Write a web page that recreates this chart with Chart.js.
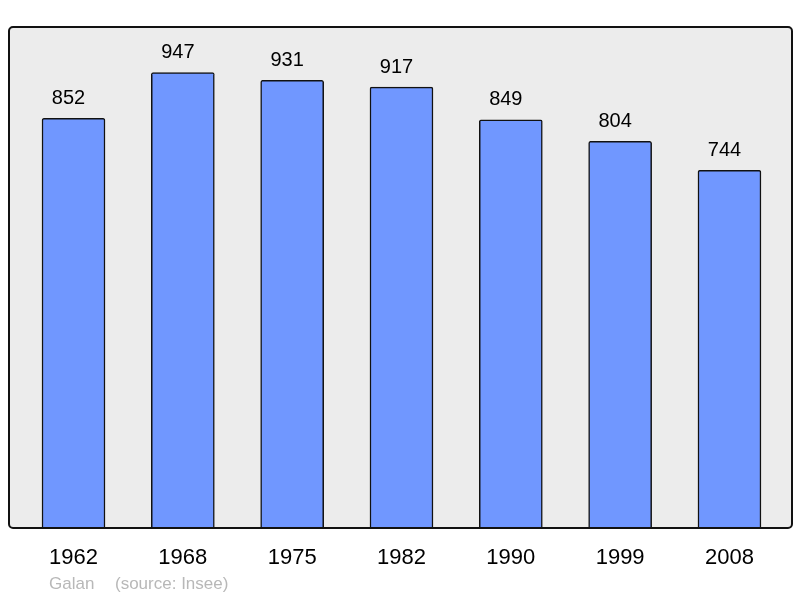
<!DOCTYPE html>
<html>
<head>
<meta charset="utf-8">
<script src="https://cdn.jsdelivr.net/npm/chart.js@4"></script>
<style>
  html, body { margin: 0; padding: 0; background: #ffffff; }
  #wrap { width: 800px; height: 598px; }
</style>
</head>
<body>
<div id="wrap"><canvas id="popChart" width="800" height="598"></canvas></div>
<script>
// Population by census year
const years = ['1962', '1968', '1975', '1982', '1990', '1999', '2008'];
const population = [852, 947, 931, 917, 849, 804, 744];
const footerName = 'Galan';
const footerSource = '(source: Insee)';

// bars sit on a linear x scale so the side margins match the picture
const points = population.map((v, i) => ({ x: i, y: v }));

// grey panel behind the bars, frame on top
const panelPlugin = {
    id: 'panel',
    beforeDatasetsDraw(chart) {
        const a = chart.chartArea;
        const ctx = chart.ctx;
        ctx.save();
        ctx.fillStyle = '#ececec';
        ctx.beginPath();
        ctx.roundRect(a.left, a.top, a.right - a.left, a.bottom - a.top, 4);
        ctx.fill();
        ctx.restore();
    },
    afterDatasetsDraw(chart) {
        const a = chart.chartArea;
        const ctx = chart.ctx;
        ctx.save();
        // value labels above each bar (sit a little left of centre in the original)
        ctx.fillStyle = '#000000';
        ctx.font = '20px "Liberation Sans", Arial, sans-serif';
        ctx.textAlign = 'center';
        ctx.textBaseline = 'middle';
        chart.getDatasetMeta(0).data.forEach((bar, i) => {
            ctx.fillText(String(population[i]), bar.x - 5, bar.y - 20);
        });
        // frame
        ctx.strokeStyle = '#111111';
        ctx.lineWidth = 2;
        ctx.beginPath();
        ctx.roundRect(a.left, a.top, a.right - a.left, a.bottom - a.top, 4);
        ctx.stroke();
        // footer
        ctx.fillStyle = '#b8b8b8';
        ctx.font = '17px "Liberation Sans", Arial, sans-serif';
        ctx.textAlign = 'left';
        ctx.fillText(footerName, 49, 584);
        ctx.fillText(footerSource, 115, 584);
        ctx.restore();
    }
};

const ctx = document.getElementById('popChart').getContext('2d');
const popChart = new Chart(ctx, {
    type: 'bar',
    data: {
        datasets: [{
            data: points,
            backgroundColor: '#7097ff',
            borderColor: '#111111',
            borderWidth: 1.5,
            borderRadius: 2,
            borderSkipped: 'bottom',
            barThickness: 63
        }]
    },
    options: {
        responsive: false,
        animation: false,
        layout: { padding: { left: 9, right: 8, top: 27, bottom: 0 } },
        plugins: {
            legend: { display: false },
            tooltip: { enabled: false }
        },
        scales: {
            x: {
                type: 'linear',
                offset: false,
                min: -0.59,
                max: 6.572,
                grid: { display: false },
                border: { display: false },
                afterBuildTicks: scale => {
                    scale.ticks = years.map((y, i) => ({ value: i }));
                },
                afterFit: scale => { scale.height = 70; },
                ticks: {
                    padding: 9,
                    color: '#000000',
                    font: { family: '"Liberation Sans", Arial, sans-serif', size: 22 },
                    callback: (v) => years[v]
                }
            },
            y: {
                display: false,
                min: 0,
                max: 1042
            }
        }
    },
    plugins: [panelPlugin]
});
</script>
</body>
</html>
